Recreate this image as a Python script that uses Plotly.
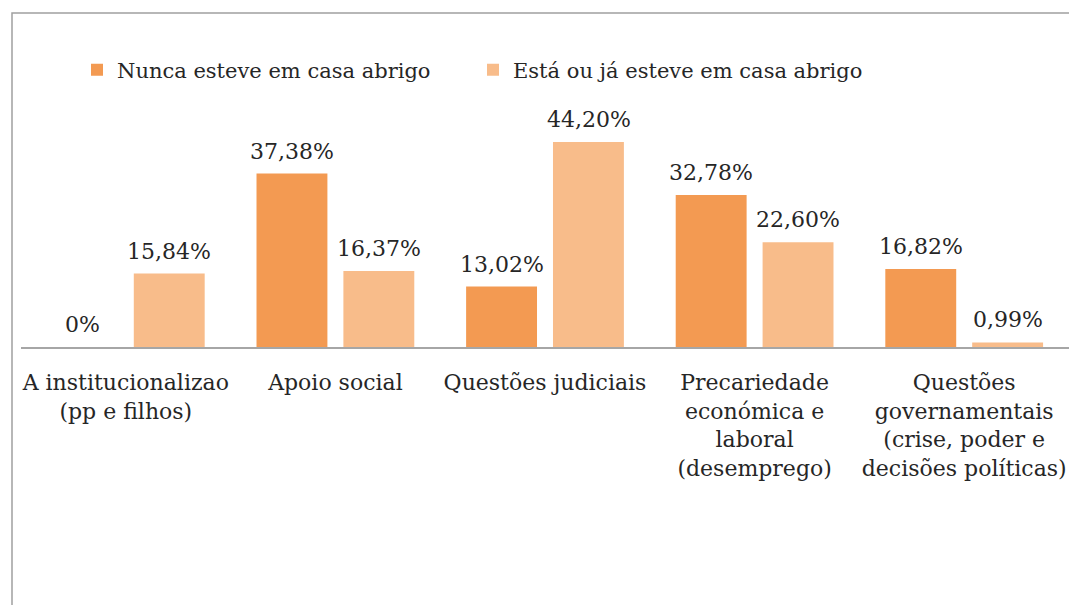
import plotly.graph_objects as go

categories = [
    "A institucionalizao<br>(pp e filhos)",
    "Apoio social",
    "Questões judiciais",
    "Precariedade<br>económica e<br>laboral<br>(desemprego)",
    "Questões<br>governamentais<br>(crise, poder e<br>decisões políticas)",
]
series_names = ["Nunca esteve em casa abrigo", "Está ou já esteve em casa abrigo"]
nunca = [0, 37.38, 13.02, 32.78, 16.82]
esta = [15.84, 16.37, 44.20, 22.60, 0.99]

colors = ["#F39A52", "#F8BC8A"]
FONT = "DejaVu Serif, serif"
TXT = "#262626"


def fmt(v):
    if v == 0:
        return "0%"
    return f"{v:.2f}".replace(".", ",") + "%"


fig = go.Figure()
offsets = [-43.5, 43.5]
for name, vals, col, off in zip(series_names, [nunca, esta], colors, offsets):
    fig.add_trace(go.Bar(
        name=name, x=categories, y=vals,
        marker=dict(color=col, line=dict(width=0)),
        cliponaxis=False,
    ))
    for c, v in zip(categories, vals):
        fig.add_annotation(
            x=c, y=v, xref="x", yref="y", text=fmt(v), showarrow=False,
            xshift=off, yshift=8, yanchor="bottom", xanchor="center",
            font=dict(family=FONT, size=22, color=TXT),
        )

W, H = 1069, 605
L, R, T, B = 21, 0, 115, 258
pw = W - L - R
ph = H - T - B

fig.update_layout(
    width=W, height=H,
    margin=dict(l=L, r=R, t=T, b=B, pad=0),
    paper_bgcolor="white", plot_bgcolor="white",
    barmode="group", bargap=0.171, bargroupgap=0.184,
    font=dict(family=FONT, size=22, color=TXT),
    legend=dict(
        orientation="h", x=(77 - L) / pw, xanchor="left",
        y=1 + (T - 70) / ph, yanchor="middle",
        font=dict(family=FONT, size=21, color=TXT),
        entrywidth=351, entrywidthmode="pixels",
        itemwidth=30, bgcolor="rgba(0,0,0,0)",
    ),
    xaxis=dict(
        showline=True, linecolor="#A6A6A6", linewidth=1.5,
        ticks="", showgrid=False, ticklabelstandoff=15,
        tickfont=dict(family=FONT, size=22, color=TXT),
    ),
    yaxis=dict(range=[0, 50], visible=False, showgrid=False, zeroline=False),
    shapes=[dict(
        type="rect", xref="paper", yref="paper",
        x0=(12 - L) / pw, x1=1.05,
        y0=-2.0, y1=1 + (T - 13) / ph,
        line=dict(color="#A0A0A0", width=1.5), fillcolor="rgba(0,0,0,0)",
        layer="below",
    )],
)

fig.write_html(
    "out.html",
    config={"displayModeBar": False},
    post_script="document.body.style.margin='0';document.body.style.overflow='hidden';",
)
